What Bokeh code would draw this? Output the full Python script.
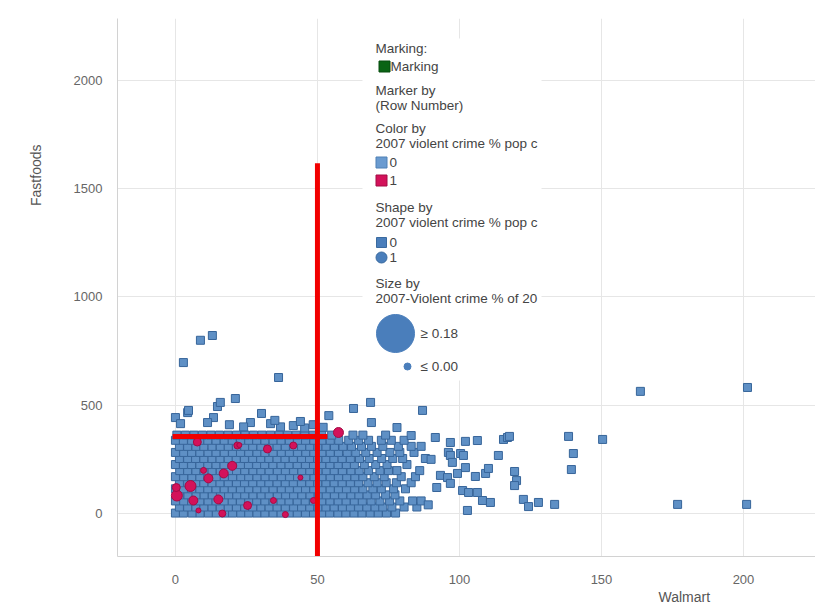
from bokeh.plotting import figure
from bokeh.models import FixedTicker, Label, Range1d, Title
from bokeh.embed import file_html
from bokeh.resources import INLINE

# ---------------- data ----------------
x_ticks = [0, 50, 100, 150, 200]
y_ticks = [0, 500, 1000, 1500, 2000]

# dense cloud, one row per Fastfoods level: (fastfoods, [walmart values])
blob_rows = [
    (2,   [0.0, 2.8, 5.9, 8.7, 11.6, 14.4, 17.3, 20.1, 23.0, 25.8, 28.7, 31.5, 34.4, 37.2, 40.1, 42.9, 45.8, 48.6, 51.5, 54.3, 57.2, 60.0, 62.9, 65.7, 68.6, 71.4, 74.3, 77.5]),
    (30,  [1.4, 4.3, 7.2, 10.0, 12.9, 15.8, 18.6, 21.5, 24.4, 27.2, 30.1, 33.0, 35.8, 38.7, 41.6, 44.4, 47.3, 50.2, 53.0, 55.9, 58.8, 61.6, 64.5, 67.4, 70.3, 73.0, 76.2, 80.5, 85.0]),
    (58,  [0.0, 2.9, 5.7, 8.6, 11.5, 14.3, 17.2, 20.0, 22.9, 25.8, 28.6, 31.5, 34.4, 37.2, 40.0, 42.9, 45.7, 48.6, 51.5, 54.4, 57.3, 60.1, 63.0, 65.8, 68.9, 72.0, 75.4, 79.0, 83.5, 86.5]),
    (86,  [1.5, 4.4, 7.3, 10.1, 13.0, 15.9, 18.7, 21.6, 24.4, 27.3, 30.2, 33.0, 35.9, 38.8, 41.6, 44.5, 47.4, 50.3, 53.1, 56.0, 58.9, 61.8, 64.6, 67.5, 70.5, 74.0, 77.3]),
    (114, [0.0, 2.8, 5.7, 8.6, 11.4, 14.3, 17.2, 20.0, 22.9, 25.8, 28.7, 31.5, 34.4, 37.3, 40.1, 43.0, 45.8, 48.7, 51.6, 54.5, 57.4, 60.2, 63.1, 66.0, 69.5, 72.5, 76.8, 81.0]),
    (142, [1.4, 4.3, 7.1, 10.0, 12.9, 15.7, 18.6, 21.5, 24.3, 27.2, 30.1, 32.9, 35.8, 38.7, 41.5, 44.4, 47.3, 50.1, 53.0, 55.9, 58.7, 61.6, 64.5, 67.8, 71.0, 74.2, 77.8, 83.0]),
    (170, [0.0, 2.9, 5.8, 8.6, 11.5, 14.4, 17.2, 20.1, 23.0, 25.8, 28.7, 31.6, 34.4, 37.3, 40.2, 43.0, 45.9, 48.8, 51.6, 54.5, 57.4, 60.3, 63.2, 66.0, 70.0, 73.5, 79.5, 84.5]),
    (198, [1.5, 4.3, 7.2, 10.1, 12.9, 15.8, 18.7, 21.5, 24.4, 27.3, 30.1, 33.0, 35.9, 38.7, 41.6, 44.5, 47.3, 50.2, 53.1, 55.9, 58.8, 61.8, 64.7, 68.0, 72.0, 75.0, 78.0, 86.0]),
    (226, [0.0, 2.8, 5.7, 8.6, 11.4, 14.3, 17.1, 20.0, 22.9, 25.7, 28.6, 31.4, 34.3, 37.2, 40.0, 42.9, 45.8, 48.6, 51.5, 54.4, 57.3, 60.2, 63.0, 66.5, 70.5, 74.5, 81.5]),
    (254, [1.4, 4.3, 7.1, 10.0, 12.9, 15.7, 18.6, 21.4, 24.3, 27.2, 30.0, 32.9, 35.8, 38.6, 41.5, 44.4, 47.2, 50.1, 53.0, 55.8, 58.7, 61.6, 64.8, 68.2, 72.6, 76.5, 80.0, 88.0]),
    (282, [0.0, 2.9, 5.7, 8.6, 11.5, 14.3, 17.2, 20.1, 22.9, 25.8, 28.7, 31.5, 34.4, 37.3, 40.1, 43.0, 45.9, 48.7, 51.6, 54.5, 57.4, 60.5, 63.5, 67.0, 71.0, 75.5, 79.0, 84.0]),
    (310, [1.4, 4.3, 7.2, 10.0, 12.9, 15.8, 18.6, 21.5, 24.4, 27.2, 30.1, 33.0, 35.8, 38.7, 41.6, 44.4, 47.3, 50.2, 53.0, 56.0, 59.0, 62.0, 65.5, 69.0, 73.0, 78.5, 83.0, 86.5]),
    (338, [0.0, 2.8, 5.7, 8.6, 11.4, 14.3, 17.2, 20.0, 22.9, 25.8, 28.6, 31.5, 34.4, 37.2, 40.1, 43.0, 45.8, 48.7, 51.6, 54.5, 57.5, 61.0, 64.5, 68.0, 72.5, 76.0, 80.5]),
    (362, [0.5, 3.5, 6.5, 9.5, 12.5, 15.5, 18.5, 21.5, 24.5, 27.5, 30.5, 33.5, 36.5, 39.5, 42.5, 45.5, 48.5, 51.5, 55.0, 62.5, 66.0, 74.0]),
]

# points on the upper fringe of the cloud
fringe_walmart  = [0.0, 4.3, 1.8, 14.8, 15.8, 21.1, 13.4, 11.3, 30.3, 26.4, 41.5, 54.0, 62.7, 68.7, 69.0, 78.0, 87.0, 91.5, 83.0, 4.6, 19.0, 24.0, 33.5, 37.0, 45.5, 48.5, 52.0, 35.0, 44.0]
fringe_fastfood = [443, 466, 415, 494, 513, 531, 443, 420, 462, 420, 406, 452, 485, 513, 420, 397, 476, 351, 360, 476, 410, 400, 415, 400, 395, 410, 398, 430, 425]

# scattered points to the right of the cloud and isolated outliers
outer_walmart  = [96.8, 102.1, 106.3, 115.5, 116.9, 117.6, 138.4, 150.4, 113.7, 140.1, 139.4, 96.1, 96.8, 97.5, 100.4, 101.4, 102.1, 105.6, 109.2, 110.2, 119.4, 120.1, 119.4, 93.3, 95.8, 96.8, 99.3, 101.1, 103.2, 106.3, 108.1, 110.9, 122.5, 124.3, 127.8, 133.5, 102.8, 176.8, 201.1, 163.7, 201.4, 2.8, 8.8, 13.0, 36.3, 90.0, 92.0, 89.0]
outer_fastfood = [328, 333, 337, 342, 351, 356, 356, 342, 268, 277, 203, 282, 268, 236, 277, 268, 212, 171, 185, 208, 194, 152, 129, 176, 166, 139, 185, 106, 97, 97, 60, 51, 65, 32, 51, 42, 14, 42, 42, 564, 582, 697, 800, 822, 628, 250, 120, 40]

# category 1 (red circles), sized by violent-crime share
red_walmart  = [7.7, 21.8, 32.4, 41.5, 20.0, 17.0, 11.6, 5.3, 0.5, 6.3, 15.1, 16.5, 25.4, 34.5, 48.6, 9.9, 0.3, 57.4, 38.7, 44.0, 8.1, 22.5]
red_fastfood = [330, 314, 298, 314, 220, 185, 162, 127, 83, 60, 65, 0, 37, 60, 60, 199, 120, 374, -5, 166, 14, 316]
red_size     = [8, 7, 8, 7, 9, 9, 9, 11, 11, 9, 9, 7, 8, 6, 6, 6, 8, 10, 6, 5, 5, 5]

# hand-drawn red reference lines
vline_walmart = 50
vline_fastfood = (-198, 1617)
hline_fastfood = 356
hline_walmart = (-1, 53.5)

walmart_blue, fastfood_blue = [], []
for ff, xs in blob_rows:
    walmart_blue += xs
    fastfood_blue += [ff] * len(xs)
walmart_blue += fringe_walmart + outer_walmart
fastfood_blue += fringe_fastfood + outer_fastfood

# ---------------- figure ----------------
W, H = 815, 604
FL, FR, FT, FB = 117, 815, 18, 556   # frame edges in page pixels
X0, X1 = -20.4, 225.35
Y0, Y1 = -198.6, 2286.0

def px_x(px):
    return X0 + (px - FL) * (X1 - X0) / (FR - FL)

def px_y(py):
    return Y0 + (FB - py) * (Y1 - Y0) / (FB - FT)

p = figure(width=W, height=H, x_range=Range1d(X0, X1), y_range=Range1d(Y0, Y1),
           output_backend="svg", toolbar_location=None,
           min_border_left=FL, min_border_right=W - FR, min_border_top=FT, min_border_bottom=H - FB)
p.outline_line_color = None
p.background_fill_color = "white"
p.border_fill_color = "white"

for ax in (p.xaxis[0], p.yaxis[0]):
    ax.major_tick_line_color = None
    ax.minor_tick_line_color = None
    ax.axis_line_color = "#d2d2d2"
    ax.major_label_text_color = "#666666"
    ax.major_label_text_font = "Liberation Sans"
    ax.major_label_text_font_size = "13px"
p.xaxis.ticker = FixedTicker(ticks=x_ticks)
p.yaxis.ticker = FixedTicker(ticks=y_ticks)
p.xaxis.major_label_standoff = 12
p.yaxis.major_label_standoff = 9
p.xgrid.ticker = FixedTicker(ticks=x_ticks)
p.ygrid.ticker = FixedTicker(ticks=y_ticks)
p.grid.grid_line_color = "#e6e6e6"

# data
p.scatter(walmart_blue, fastfood_blue, marker="square", size=8,
          fill_color="#5f90c5", line_color="#37659a", line_width=1)
p.scatter(red_walmart, red_fastfood, marker="circle", size=red_size,
          fill_color="#d3125a", line_color="#a30c44", line_width=1)

# red reference lines
p.line([vline_walmart, vline_walmart], list(vline_fastfood), line_color="#f20000", line_width=5)
p.line(list(hline_walmart), [hline_fastfood, hline_fastfood], line_color="#f20000", line_width=5)

# ---------------- legend panel ----------------
p.quad(left=px_x(362), right=px_x(541), top=px_y(38), bottom=px_y(380),
       fill_color="white", line_color=None)

LF = "Liberation Sans"
def txt(px, py, s, size="13.5px", color="#444444"):
    p.add_layout(Label(x=px_x(px), y=px_y(py), text=s, text_font=LF, text_font_size=size,
                       text_color=color, text_baseline="middle", text_align="left"))

txt(375, 48, "Marking:")
p.scatter([px_x(384)], [px_y(66)], marker="square", size=11, fill_color="#0a6414", line_color="#074d0f")
txt(390, 66, "Marking")
txt(375, 90, "Marker by")
txt(375, 105, "(Row Number)")
txt(375, 128, "Color by")
txt(375, 143, "2007 violent crime % pop c")
p.scatter([px_x(381)], [px_y(162)], marker="square", size=11, fill_color="#6a9bd0", line_color="#4f80b5")
txt(389, 162, "0")
p.scatter([px_x(381)], [px_y(180)], marker="square", size=11, fill_color="#d3125a", line_color="#a30c44")
txt(389, 180, "1")
txt(375, 207, "Shape by")
txt(375, 222, "2007 violent crime % pop c")
p.scatter([px_x(381)], [px_y(242)], marker="square", size=10, fill_color="#4a7ebb", line_color="#3a6a9f")
txt(389, 242, "0")
p.scatter([px_x(381)], [px_y(257)], marker="circle", size=11, fill_color="#4a7ebb", line_color="#3a6a9f")
txt(389, 257, "1")
txt(375, 283, "Size by")
txt(375, 298, "2007-Violent crime % of 20")
p.scatter([px_x(395)], [px_y(333)], marker="circle", size=38, fill_color="#4a7ebb", line_color="#4a7ebb")
txt(420, 333, "\u2265 0.18")
p.scatter([px_x(407)], [px_y(366)], marker="circle", size=7, fill_color="#4a7ebb", line_color="#4a7ebb")
txt(420, 366, "\u2264 0.00")

# ---------------- axis titles (as side titles) ----------------
p.add_layout(Title(text="Walmart", align="left", offset=541, standoff=0,
                   text_font=LF, text_font_size="14px", text_font_style="normal",
                   text_color="#555555"), "below")
p.add_layout(Title(text="Fastfoods", align="right", offset=126, standoff=50, vertical_align="top",
                   text_font=LF, text_font_size="14px", text_font_style="normal",
                   text_color="#555555"), "left")

open("out.html", "w").write(file_html(p, INLINE))
